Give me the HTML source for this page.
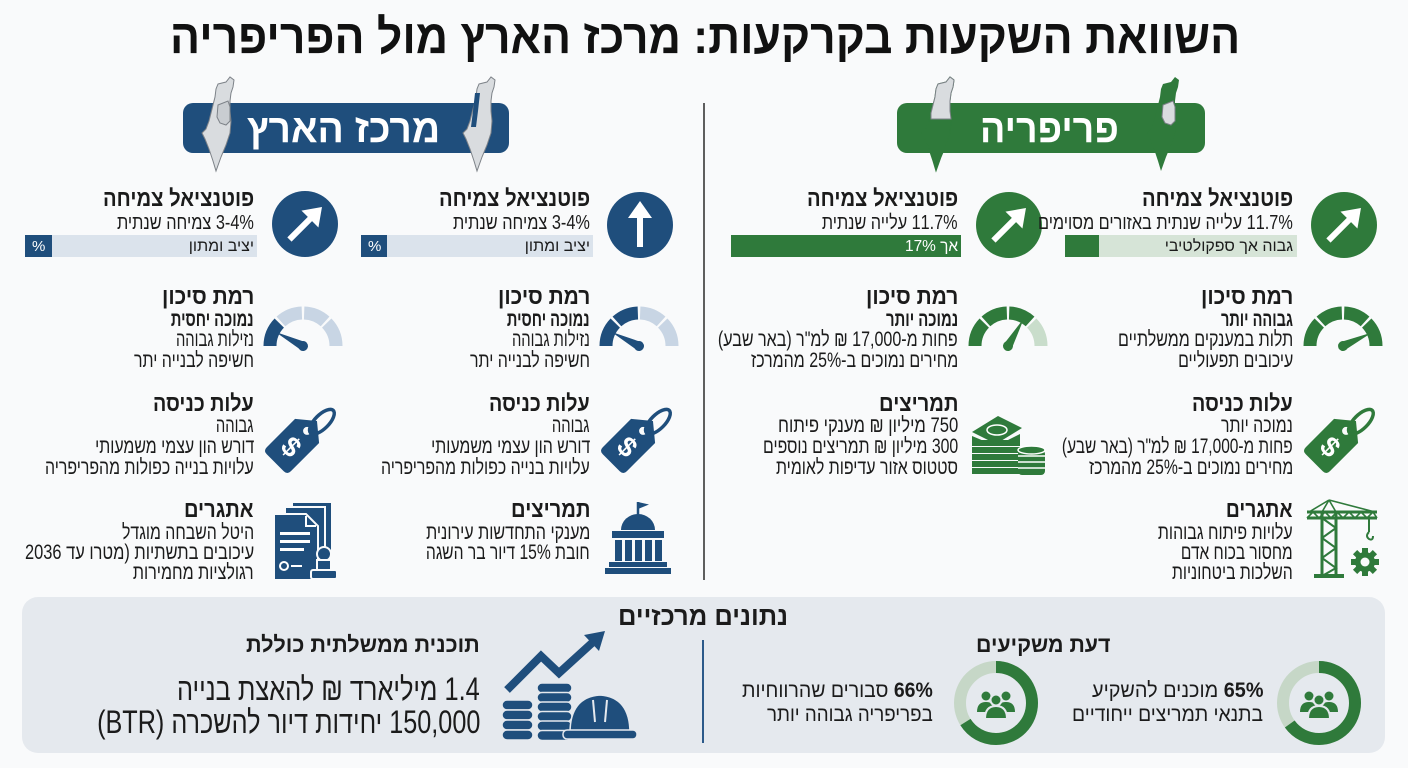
<!DOCTYPE html>
<html lang="he"><head><meta charset="utf-8">
<style>
html,body{margin:0;padding:0;}
body{width:1408px;height:768px;overflow:hidden;background:#f9fafb;position:relative;font-family:"Liberation Sans","DejaVu Sans",sans-serif;color:#1b1b1b;}
.t{position:absolute;white-space:nowrap;direction:rtl;line-height:1;transform-origin:100% 50%;transform:scaleX(.8);}
.b{font-weight:bold;}
#g{position:absolute;left:0;top:0;}
</style></head><body>
<svg id="g" width="1408" height="768" viewBox="0 0 1408 768">
<!-- pills -->
<rect x="183" y="103" width="326" height="50" rx="10" fill="#1f4e7c"/>
<rect x="897" y="103" width="308" height="50" rx="10" fill="#2f7a3b"/>
<!-- maps -->
<g transform="translate(200,77)">
<path d="M18,7 L26,5 L30,0 L34,3 L33,10 L31,16 L30,24 L30,34 L31,44 L30,56 L26,68 L21,80 L16,94 L13,84 L9,72 L5,62 L2,56 L6,52 L9,44 L11,36 L13,28 L15,20 L16,12 Z" fill="#d9dcdf" stroke="#7d8288" stroke-width="1"/>
<path d="M18,28 L28,24 L30,30 L30,44 L26,48 L20,46 L17,40 Z" fill="#c9cdd1" stroke="#7d8288" stroke-width="1"/>
</g>
<g transform="translate(461,77)">
<path d="M18,7 L26,5 L30,0 L34,3 L33,10 L31,16 L30,24 L30,34 L31,44 L30,56 L26,68 L21,80 L16,94 L13,84 L9,72 L5,62 L2,56 L6,52 L9,44 L11,36 L13,28 L15,20 L16,12 Z" fill="#d9dcdf" stroke="#7d8288" stroke-width="1"/>
<path d="M14,16 L19,16 L17,34 L15,50 L10,50 L12,34 Z" fill="#1f4e7c"/>
</g>
<g transform="translate(920,77)">
<path d="M18,7 L26,5 L30,0 L34,3 L33,10 L31,16 L30,24 L30,34 L31,44 L30,56 L26,68 L21,80 L16,94 L13,84 L9,72 L5,62 L2,56 L6,52 L9,44 L11,36 L13,28 L15,20 L16,12 Z" fill="#2f7a3b" stroke="#2f7a3b" stroke-width="1"/>
<path d="M18,7 L26,5 L30,0 L34,3 L33,10 L31,16 L30,24 L30,34 L31,42 L11,42 L11,36 L13,28 L15,20 L16,12 Z" fill="#d9dcdf" stroke="#7d8288" stroke-width="1"/>
</g>
<g transform="translate(1145,77)">
<path d="M18,7 L26,5 L30,0 L34,3 L33,10 L31,16 L30,24 L30,34 L31,44 L30,56 L26,68 L21,80 L16,94 L13,84 L9,72 L5,62 L2,56 L6,52 L9,44 L11,36 L13,28 L15,20 L16,12 Z" fill="#2f7a3b"/>
<path d="M18,28 L28,24 L30,30 L30,44 L26,48 L20,46 L17,40 Z" fill="#d9dcdf" stroke="#7d8288" stroke-width="1"/>
</g>
<!-- main divider -->
<line x1="704" y1="103" x2="704" y2="580" stroke="#2a2a2a" stroke-width="1.5"/>

<!-- row1 circles -->
<g transform="translate(640,225)"><circle r="33" fill="#1f4e7c"/><path d="M0,-24 L-12,-7 L-3,-7 L-3,22 L3,22 L3,-7 L12,-7 Z" fill="#fff"/></g>
<g transform="translate(305,224)"><circle r="33" fill="#1f4e7c"/><g transform="rotate(45)"><path d="M0,-24 L-12,-7 L-3,-7 L-3,22 L3,22 L3,-7 L12,-7 Z" fill="#fff"/></g></g>
<g transform="translate(1009,225)"><circle r="33" fill="#2f7a3b"/><g transform="rotate(45)"><path d="M0,-24 L-12,-7 L-3,-7 L-3,22 L3,22 L3,-7 L12,-7 Z" fill="#fff"/></g></g>
<g transform="translate(1344,225)"><circle r="33" fill="#2f7a3b"/><g transform="rotate(45)"><path d="M0,-24 L-12,-7 L-3,-7 L-3,22 L3,22 L3,-7 L12,-7 Z" fill="#fff"/></g></g>

<!-- bars -->
<rect x="361" y="235" width="232" height="22" fill="#dbe3ec"/><rect x="361" y="235" width="26" height="22" fill="#1f4e7c"/>
<rect x="25" y="235" width="232" height="22" fill="#dbe3ec"/><rect x="25" y="235" width="27" height="22" fill="#1f4e7c"/>
<rect x="731" y="235" width="230" height="22" fill="#2f7a3b"/>
<rect x="1065" y="235" width="232" height="22" fill="#d6e4d7"/><rect x="1065" y="235" width="34" height="22" fill="#2f7a3b"/>

<!-- gauges -->
<g transform="translate(639,346)" fill="none" stroke-width="13">
<path d="M-33,0 A33,33 0 0 1 -23.74,-22.93" stroke="#1f4e7c"/>
<path d="M-22.08,-24.52 A33,33 0 0 1 -1.15,-32.98" stroke="#1f4e7c"/>
<path d="M1.15,-32.98 A33,33 0 0 1 22.08,-24.52" stroke="#c8d5e4"/>
<path d="M23.74,-22.93 A33,33 0 0 1 33,0" stroke="#c8d5e4"/>
<g transform="rotate(-153)" fill="#1f4e7c" stroke="none"><path d="M0,-4.5 L31,0 L0,4.5 Z"/><circle r="5"/></g>
</g>
<g transform="translate(303,346)" fill="none" stroke-width="13">
<path d="M-33,0 A33,33 0 0 1 -23.74,-22.93" stroke="#1f4e7c"/>
<path d="M-22.08,-24.52 A33,33 0 0 1 -1.15,-32.98" stroke="#c8d5e4"/>
<path d="M1.15,-32.98 A33,33 0 0 1 22.08,-24.52" stroke="#c8d5e4"/>
<path d="M23.74,-22.93 A33,33 0 0 1 33,0" stroke="#c8d5e4"/>
<g transform="rotate(-153)" fill="#1f4e7c" stroke="none"><path d="M0,-4.5 L31,0 L0,4.5 Z"/><circle r="5"/></g>
</g>
<g transform="translate(1008,346)" fill="none" stroke-width="13">
<path d="M-33,0 A33,33 0 0 1 -23.74,-22.93" stroke="#2f7a3b"/>
<path d="M-22.08,-24.52 A33,33 0 0 1 -1.15,-32.98" stroke="#2f7a3b"/>
<path d="M1.15,-32.98 A33,33 0 0 1 22.08,-24.52" stroke="#2f7a3b"/>
<path d="M23.74,-22.93 A33,33 0 0 1 33,0" stroke="#c9ddcb"/>
<g transform="rotate(-60)" fill="#2f7a3b" stroke="none"><path d="M0,-4.5 L32,0 L0,4.5 Z"/><circle r="5"/></g>
</g>
<g transform="translate(1343,346)" fill="none" stroke-width="13">
<path d="M-33,0 A33,33 0 0 1 -23.74,-22.93" stroke="#2f7a3b"/>
<path d="M-22.08,-24.52 A33,33 0 0 1 -1.15,-32.98" stroke="#2f7a3b"/>
<path d="M1.15,-32.98 A33,33 0 0 1 22.08,-24.52" stroke="#2f7a3b"/>
<path d="M23.74,-22.93 A33,33 0 0 1 33,0" stroke="#2f7a3b"/>
<g transform="rotate(-25)" fill="#2f7a3b" stroke="none"><path d="M0,-4.5 L32,0 L0,4.5 Z"/><circle r="5"/></g>
</g>

<!-- tags -->
<g transform="translate(636,438) rotate(45)">
<path d="M0,-24 L17,-10 L17,30 Q17,35 12,35 L-12,35 Q-17,35 -17,30 L-17,-10 Z" fill="#1f4e7c"/>
<circle cx="0" cy="-10" r="4" fill="#f9fafb"/>
<ellipse cx="4" cy="-27" rx="7" ry="16" fill="none" stroke="#1f4e7c" stroke-width="3.5"/>
<text x="0" y="22" font-size="28" font-weight="bold" fill="#fff" text-anchor="middle" font-family="Liberation Sans, sans-serif">$</text>
</g>
<g transform="translate(300,438) rotate(45)">
<path d="M0,-24 L17,-10 L17,30 Q17,35 12,35 L-12,35 Q-17,35 -17,30 L-17,-10 Z" fill="#1f4e7c"/>
<circle cx="0" cy="-10" r="4" fill="#f9fafb"/>
<ellipse cx="4" cy="-27" rx="7" ry="16" fill="none" stroke="#1f4e7c" stroke-width="3.5"/>
<text x="0" y="22" font-size="28" font-weight="bold" fill="#fff" text-anchor="middle" font-family="Liberation Sans, sans-serif">$</text>
</g>
<g transform="translate(1339,438) rotate(45)">
<path d="M0,-24 L17,-10 L17,30 Q17,35 12,35 L-12,35 Q-17,35 -17,30 L-17,-10 Z" fill="#2f7a3b"/>
<circle cx="0" cy="-10" r="4" fill="#f9fafb"/>
<ellipse cx="4" cy="-27" rx="7" ry="16" fill="none" stroke="#2f7a3b" stroke-width="3.5"/>
<text x="0" y="22" font-size="28" font-weight="bold" fill="#fff" text-anchor="middle" font-family="Liberation Sans, sans-serif">$</text>
</g>

<!-- building -->
<g transform="translate(603,501)" fill="#1f4e7c">
<line x1="35" y1="1" x2="35" y2="15" stroke="#1f4e7c" stroke-width="2.5"/>
<path d="M35,1 L46,3.5 L35,8 Z"/>
<path d="M18,29 A17,16 0 0 1 52,29 Z"/>
<rect x="9" y="30" width="52" height="7"/>
<rect x="12" y="39" width="7" height="21"/><rect x="22" y="39" width="7" height="21"/><rect x="32" y="39" width="7" height="21"/><rect x="42" y="39" width="7" height="21"/><rect x="52" y="39" width="7" height="21"/>
<rect x="6" y="61" width="58" height="5"/>
<rect x="2" y="67" width="66" height="6"/>
</g>

<!-- document -->
<g transform="translate(272,500)">
<rect x="20" y="2" width="40" height="54" fill="#1f4e7c" stroke="#f9fafb" stroke-width="2"/>
<rect x="13" y="7" width="40" height="54" fill="#1f4e7c" stroke="#f9fafb" stroke-width="2"/>
<path d="M2,14 L34,14 L46,26 L46,80 L2,80 Z" fill="#1f4e7c" stroke="#f9fafb" stroke-width="2"/>
<path d="M34,16 L34,26 L44,26" fill="none" stroke="#fff" stroke-width="2"/>
<rect x="8" y="32" width="30" height="3" fill="#fff"/><rect x="8" y="40" width="30" height="3" fill="#fff"/><rect x="8" y="48" width="24" height="3" fill="#fff"/>
<circle cx="12" cy="66" r="4" fill="none" stroke="#fff" stroke-width="2"/>
<line x1="19" y1="66" x2="30" y2="66" stroke="#fff" stroke-width="2"/>
<circle cx="52" cy="54" r="7" fill="#1f4e7c" stroke="#f9fafb" stroke-width="2"/>
<rect x="45" y="60" width="14" height="10" fill="#1f4e7c" stroke="#f9fafb" stroke-width="2"/>
<rect x="39" y="70" width="26" height="9" rx="2" fill="#1f4e7c" stroke="#f9fafb" stroke-width="2"/>
</g>

<!-- money -->
<g transform="translate(970,410)" fill="#2f7a3b">
<rect x="2" y="30" width="48" height="6"/><rect x="2" y="37" width="48" height="6"/><rect x="2" y="44" width="48" height="6"/><rect x="2" y="51" width="48" height="6"/><rect x="2" y="58" width="48" height="6"/>
<polygon points="2,22 28,6 52,18 26,34"/>
<polygon points="2,26 26,36 50,24 50,30 26,36 2,30"/>
<ellipse cx="27" cy="20" rx="10" ry="5" fill="none" stroke="#fff" stroke-width="1.5"/>
<rect x="48" y="40" width="27" height="25" rx="4"/>
<ellipse cx="61.5" cy="40" rx="13.5" ry="4" fill="#2f7a3b" stroke="#fff" stroke-width="1.5"/>
<line x1="48" y1="46" x2="75" y2="46" stroke="#fff" stroke-width="1.5"/>
<line x1="48" y1="52" x2="75" y2="52" stroke="#fff" stroke-width="1.5"/>
<line x1="48" y1="58" x2="75" y2="58" stroke="#fff" stroke-width="1.5"/>
</g>

<!-- crane -->
<g transform="translate(1305,500)" stroke="#2f7a3b" fill="none">
<line x1="17" y1="12" x2="17" y2="76" stroke-width="3"/>
<line x1="31" y1="12" x2="31" y2="76" stroke-width="3"/>
<polyline points="17,18 31,28 17,38 31,48 17,58 31,68 17,76" stroke-width="2"/>
<line x1="2" y1="12" x2="72" y2="12" stroke-width="3"/>
<line x1="2" y1="18" x2="72" y2="18" stroke-width="3"/>
<polyline points="2,18 8,12 14,18 20,12 26,18 32,12 38,18 44,12 50,18 56,12 62,18 68,12 72,18" stroke-width="1.6"/>
<path d="M24,0 L17,12 M24,0 L31,12 M24,0 L70,12 M24,0 L4,12" stroke-width="1.6"/>
<line x1="64" y1="18" x2="64" y2="32" stroke-width="2"/>
<path d="M64,32 q-4,4 0,7 q4,2 4,-3" stroke-width="2"/>
<rect x="9" y="74" width="30" height="4" fill="#2f7a3b" stroke="none"/>
<g transform="translate(60,62)" fill="#2f7a3b" stroke="none">
<circle r="10"/>
<rect x="-3" y="-14" width="6" height="28"/><rect x="-14" y="-3" width="28" height="6"/>
<rect x="-3" y="-14" width="6" height="28" transform="rotate(45)"/><rect x="-3" y="-14" width="6" height="28" transform="rotate(-45)"/>
<circle r="4.5" fill="#f9fafb"/>
</g>
</g>

<!-- bottom panel -->
<rect x="22" y="597" width="1363" height="156" rx="16" fill="#e5e9ee"/>
<line x1="703" y1="640" x2="703" y2="743" stroke="#2c5a8a" stroke-width="2"/>
<!-- trend icon -->
<polyline points="507,690 541,656 559,673 592,643" fill="none" stroke="#1f4e7c" stroke-width="8" stroke-linejoin="miter"/>
<polygon points="605,631 599,651 584,635" fill="#1f4e7c"/>
<g fill="#1f4e7c" stroke="#e5e9ee" stroke-width="1.5">
<rect x="502" y="700" width="31" height="10" rx="5"/><rect x="502" y="710" width="31" height="10" rx="5"/><rect x="502" y="720" width="31" height="10" rx="5"/><rect x="502" y="730" width="31" height="10" rx="5"/>
<rect x="537" y="683" width="35" height="10" rx="5"/><rect x="537" y="692.5" width="35" height="10" rx="5"/><rect x="537" y="702" width="35" height="10" rx="5"/><rect x="537" y="711.5" width="35" height="10" rx="5"/><rect x="537" y="721" width="35" height="10" rx="5"/><rect x="537" y="730.5" width="35" height="10" rx="5"/>
<path d="M570,733 Q570,697 600,695 Q630,697 630,733 Z"/>
<rect x="563" y="730" width="74" height="9" rx="4"/>
</g>
<line x1="593" y1="700" x2="595" y2="722" stroke="#e5e9ee" stroke-width="2"/>
<line x1="607" y1="700" x2="605" y2="722" stroke="#e5e9ee" stroke-width="2"/>
<!-- donuts -->
<circle cx="1319" cy="703" r="36" fill="none" stroke="#c6d7c7" stroke-width="12"/>
<circle cx="1319" cy="703" r="36" fill="none" stroke="#2f7a3b" stroke-width="12" stroke-dasharray="147 400" transform="rotate(-90 1319 703)"/>
<circle cx="996" cy="703" r="36" fill="none" stroke="#c6d7c7" stroke-width="12"/>
<circle cx="996" cy="703" r="36" fill="none" stroke="#2f7a3b" stroke-width="12" stroke-dasharray="149.3 400" transform="rotate(-90 996 703)"/>
<g transform="translate(1319,705)" fill="#2f7a3b">
<path d="M-19,7 Q-19,-3 -10,-3 Q-1,-3 -1,7 Z"/><path d="M1,7 Q1,-3 10,-3 Q19,-3 19,7 Z"/>
<circle cx="-10" cy="-9" r="4.5"/><circle cx="10" cy="-9" r="4.5"/>
<path d="M-11,14 Q-11,1 0,1 Q11,1 11,14 Z" stroke="#e5e9ee" stroke-width="2"/>
<circle cx="0" cy="-5" r="5.5" stroke="#e5e9ee" stroke-width="2"/>
</g>
<g transform="translate(996,705)" fill="#2f7a3b">
<path d="M-19,7 Q-19,-3 -10,-3 Q-1,-3 -1,7 Z"/><path d="M1,7 Q1,-3 10,-3 Q19,-3 19,7 Z"/>
<circle cx="-10" cy="-9" r="4.5"/><circle cx="10" cy="-9" r="4.5"/>
<path d="M-11,14 Q-11,1 0,1 Q11,1 11,14 Z" stroke="#e5e9ee" stroke-width="2"/>
<circle cx="0" cy="-5" r="5.5" stroke="#e5e9ee" stroke-width="2"/>
</g>
</svg>

<!-- title -->
<div class="t b" style="right:168px;top:14px;font-size:48px;--w:1070;color:#111">השוואת השקעות בקרקעות: מרכז הארץ מול הפריפריה</div>
<div class="t b" style="right:968px;top:109px;font-size:40px;--w:193;color:#fff">מרכז הארץ</div>
<div class="t b" style="right:289px;top:109px;font-size:40px;--w:139;color:#fff">פריפריה</div>

<!-- row1 -->
<div class="t b" style="right:818px;top:187px;font-size:23px;--w:151">פוטנציאל צמיחה</div>
<div class="t" style="right:818px;top:213px;font-size:20px;--w:137">3-4% צמיחה שנתית</div>
<div class="t" style="right:818px;top:239px;font-size:16px;--w:65">יציב ומתון</div>
<div class="t" style="left:368px;top:239px;font-size:15px;color:#fff;direction:ltr;transform:none">%</div>

<div class="t b" style="right:1154px;top:187px;font-size:23px;--w:151">פוטנציאל צמיחה</div>
<div class="t" style="right:1154px;top:213px;font-size:20px;--w:137">3-4% צמיחה שנתית</div>
<div class="t" style="right:1154px;top:239px;font-size:16px;--w:65">יציב ומתון</div>
<div class="t" style="left:32px;top:239px;font-size:15px;color:#fff;direction:ltr;transform:none">%</div>

<div class="t b" style="right:450px;top:187px;font-size:23px;--w:151">פוטנציאל צמיחה</div>
<div class="t" style="right:450px;top:213px;font-size:20px;--w:136">11.7% עלייה שנתית</div>
<div class="t" style="right:450px;top:239px;font-size:16px;--w:53;color:#fff">אך 17%</div>

<div class="t b" style="right:115px;top:187px;font-size:23px;--w:151">פוטנציאל צמיחה</div>
<div class="t" style="right:115px;top:213px;font-size:20px;--w:255">11.7% עלייה שנתית באזורים מסוימים</div>
<div class="t" style="right:115px;top:239px;font-size:16px;--w:128">גבוה אך ספקולטיבי</div>

<!-- row2 -->
<div class="t b" style="right:818px;top:285px;font-size:23px;--w:92">רמת סיכון</div>
<div class="t b" style="right:818px;top:309px;font-size:21px;--w:83">נמוכה יחסית</div>
<div class="t" style="right:818px;top:329px;font-size:21px;--w:78">נזילות גבוהה</div>
<div class="t" style="right:818px;top:350px;font-size:21px;--w:120">חשיפה לבנייה יתר</div>

<div class="t b" style="right:1154px;top:285px;font-size:23px;--w:92">רמת סיכון</div>
<div class="t b" style="right:1154px;top:309px;font-size:21px;--w:83">נמוכה יחסית</div>
<div class="t" style="right:1154px;top:329px;font-size:21px;--w:78">נזילות גבוהה</div>
<div class="t" style="right:1154px;top:350px;font-size:21px;--w:120">חשיפה לבנייה יתר</div>

<div class="t b" style="right:450px;top:285px;font-size:23px;--w:92">רמת סיכון</div>
<div class="t b" style="right:450px;top:309px;font-size:21px;--w:72">נמוכה יותר</div>
<div class="t" style="right:450px;top:329px;font-size:21px;--w:240">פחות מ-17,000 ₪ למ"ר (באר שבע)</div>
<div class="t" style="right:450px;top:350px;font-size:21px;--w:207">מחירים נמוכים ב-25% מהמרכז</div>

<div class="t b" style="right:115px;top:285px;font-size:23px;--w:92">רמת סיכון</div>
<div class="t b" style="right:115px;top:309px;font-size:21px;--w:72">גבוהה יותר</div>
<div class="t" style="right:115px;top:329px;font-size:21px;--w:175">תלות במענקים ממשלתיים</div>
<div class="t" style="right:115px;top:350px;font-size:21px;--w:115">עיכובים תפעוליים</div>

<!-- row3 -->
<div class="t b" style="right:818px;top:392px;font-size:23px;--w:101">עלות כניסה</div>
<div class="t" style="right:818px;top:415px;font-size:21px;--w:38">גבוהה</div>
<div class="t" style="right:818px;top:436px;font-size:21px;--w:159">דורש הון עצמי משמעותי</div>
<div class="t" style="right:818px;top:457px;font-size:21px;--w:209">עלויות בנייה כפולות מהפריפריה</div>

<div class="t b" style="right:1154px;top:392px;font-size:23px;--w:101">עלות כניסה</div>
<div class="t" style="right:1154px;top:415px;font-size:21px;--w:38">גבוהה</div>
<div class="t" style="right:1154px;top:436px;font-size:21px;--w:159">דורש הון עצמי משמעותי</div>
<div class="t" style="right:1154px;top:457px;font-size:21px;--w:209">עלויות בנייה כפולות מהפריפריה</div>

<div class="t b" style="right:450px;top:392px;font-size:23px;--w:79">תמריצים</div>
<div class="t" style="right:450px;top:415px;font-size:21px;--w:180">750 מיליון ₪ מענקי פיתוח</div>
<div class="t" style="right:450px;top:436px;font-size:21px;--w:195">300 מיליון ₪ תמריצים נוספים</div>
<div class="t" style="right:450px;top:457px;font-size:21px;--w:182">סטטוס אזור עדיפות לאומית</div>

<div class="t b" style="right:115px;top:392px;font-size:23px;--w:101">עלות כניסה</div>
<div class="t" style="right:115px;top:415px;font-size:21px;--w:72">נמוכה יותר</div>
<div class="t" style="right:115px;top:436px;font-size:21px;--w:231">פחות מ-17,000 ₪ למ"ר (באר שבע)</div>
<div class="t" style="right:115px;top:457px;font-size:21px;--w:204">מחירים נמוכים ב-25% מהמרכז</div>

<!-- row4 -->
<div class="t b" style="right:818px;top:498px;font-size:23px;--w:79">תמריצים</div>
<div class="t" style="right:818px;top:522px;font-size:21px;--w:164">מענקי התחדשות עירונית</div>
<div class="t" style="right:818px;top:542px;font-size:21px;--w:164">חובת 15% דיור בר השגה</div>

<div class="t b" style="right:1154px;top:498px;font-size:23px;--w:70">אתגרים</div>
<div class="t" style="right:1154px;top:522px;font-size:21px;--w:132">היטל השבחה מוגדל</div>
<div class="t" style="right:1154px;top:542px;font-size:21px;--w:229">עיכובים בתשתיות (מטרו עד 2036</div>
<div class="t" style="right:1154px;top:562px;font-size:21px;--w:121">רגולציות מחמירות</div>

<div class="t b" style="right:115px;top:498px;font-size:23px;--w:67">אתגרים</div>
<div class="t" style="right:115px;top:522px;font-size:21px;--w:135">עלויות פיתוח גבוהות</div>
<div class="t" style="right:115px;top:542px;font-size:21px;--w:112">מחסור בכוח אדם</div>
<div class="t" style="right:115px;top:562px;font-size:21px;--w:121">השלכות ביטחוניות</div>

<!-- bottom -->
<div class="t b" style="right:620px;top:603px;font-size:26px;--w:170">נתונים מרכזיים</div>
<div class="t b" style="right:928px;top:634px;font-size:22px;--w:234">תוכנית ממשלתית כוללת</div>
<div class="t" style="right:928px;top:673px;font-size:32px;--w:303">1.4 מיליארד ₪ להאצת בנייה</div>
<div class="t" style="right:928px;top:706px;font-size:32px;--w:383">150,000 יחידות דיור להשכרה (BTR)</div>
<div class="t b" style="right:298px;top:634px;font-size:22px;--w:134">דעת משקיעים</div>
<div class="t" style="right:145px;top:680px;font-size:21px;--w:171"><b>65%</b> מוכנים להשקיע</div>
<div class="t" style="right:145px;top:704px;font-size:21px;--w:191">בתנאי תמריצים ייחודיים</div>
<div class="t" style="right:475px;top:680px;font-size:21px;--w:191"><b>66%</b> סבורים שהרווחיות</div>
<div class="t" style="right:475px;top:704px;font-size:21px;--w:166">בפריפריה גבוהה יותר</div>

<script>
(function(){
var els=document.querySelectorAll('.t');
for(var i=0;i<els.length;i++){
 var e=els[i];
 var w=parseFloat(getComputedStyle(e).getPropertyValue('--w'));
 if(w&&e.offsetWidth){e.style.transform='scaleX('+(w/e.offsetWidth)+')';}
}
})();
</script>
</body></html>
